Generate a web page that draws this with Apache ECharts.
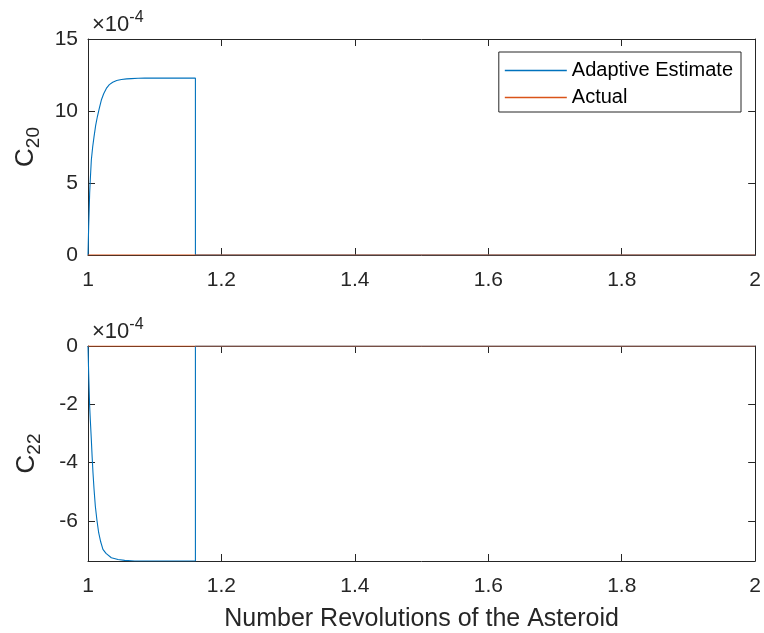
<!DOCTYPE html>
<html>
<head>
<meta charset="utf-8">
<script src="https://cdn.jsdelivr.net/npm/echarts@6/dist/echarts.min.js"></script>
<style>
  html, body { margin: 0; padding: 0; background: #fff; }
  #chart { width: 764px; height: 633px; }
</style>
</head>
<body>
<div id="chart"></div>
<script>
// values in units of 1e-4 (as the axes show them)
const c20Revs = [1, 1.0005, 1.001, 1.0018, 1.0025, 1.0035, 1.005, 1.007, 1.009, 1.0115, 1.014, 1.017, 1.02, 1.0235,
  1.0275, 1.032, 1.037, 1.043, 1.05, 1.058, 1.065, 1.075, 1.085, 1.161, 1.161, 2];
const c20Est = [0, 1.0, 1.97, 3.2, 4.3, 5.3, 6.6, 7.5, 8.2, 9.0, 9.6, 10.2, 10.76, 11.2,
  11.57, 11.83, 12.0, 12.12, 12.19, 12.23, 12.25, 12.27, 12.28, 12.28, 0, 0];
const c22Revs = [1, 1.0005, 1.001, 1.0018, 1.0025, 1.0035, 1.005, 1.0062, 1.0075, 1.009, 1.011, 1.0135, 1.016, 1.019,
  1.0224, 1.027, 1.035, 1.045, 1.055, 1.07, 1.161, 1.161, 2];
const c22Est = [0, -0.47, -0.94, -1.55, -2.08, -2.55, -3.22, -3.8, -4.36, -4.9, -5.5, -6.0, -6.41, -6.72,
  -6.98, -7.12, -7.27, -7.33, -7.36, -7.38, -7.38, 0, 0];
const actualRevs = [1, 2];
const c20Actual = [0, 0];
const c22Actual = [0, 0];
const c20Ticks = [0, 5, 10, 15];
const c22Ticks = [-6, -4, -2, 0];

const BLUE = '#0072BD';
const ORANGE = '#D95319';
const INK = '#262626';
const FONT = 'Liberation Sans';

const zip = (xs, ys) => xs.map((x, i) => [x, ys[i]]);

const chart = echarts.init(document.getElementById('chart'), null, { renderer: 'canvas' });

function xAxisFor(grid, pos, withLabels, name) {
  return {
    type: 'value', gridIndex: grid, position: pos, min: 1, max: 2, interval: 0.2,
    name: name || '', nameLocation: 'middle', nameGap: 46,
    nameTextStyle: { fontFamily: FONT, fontSize: 25, color: INK },
    axisLine: { show: true, onZero: false, lineStyle: { color: INK, width: 1 } },
    axisTick: { show: true, inside: true, length: 7, lineStyle: { color: INK } },
    axisLabel: {
      show: withLabels, margin: 15, fontFamily: FONT, fontSize: 21, color: INK,
      formatter: v => String(+v.toFixed(1))
    },
    splitLine: { show: false }
  };
}

function yAxisFor(grid, pos, min, max, ticks, withLabels, sub) {
  return {
    type: 'value', gridIndex: grid, position: pos, min: min, max: max,
    name: withLabels ? '{c|C}{s|' + sub + '}' : '',
    nameLocation: 'middle', nameRotate: 90, nameGap: 44,
    nameTextStyle: {
      rich: {
        c: { fontFamily: FONT, fontSize: 26, color: INK },
        s: { fontFamily: FONT, fontSize: 19, color: INK, padding: [16, 0, 0, 0] }
      }
    },
    axisLine: { show: true, onZero: false, lineStyle: { color: INK, width: 1 } },
    axisTick: { show: true, inside: true, length: 7, customValues: ticks, lineStyle: { color: INK } },
    axisLabel: { show: withLabels, margin: 10, fontFamily: FONT, fontSize: 21, color: INK, customValues: ticks },
    splitLine: { show: false }
  };
}

function exponentLabel(top) {
  return {
    type: 'text', left: 92, top: top,
    style: {
      text: '{a|×10}{b|-4}',
      rich: {
        a: { fontFamily: FONT, fontSize: 22, fill: INK },
        b: { fontFamily: FONT, fontSize: 16, fill: INK, padding: [0, 0, 14, 0] }
      }
    }
  };
}

const line = (name, x, y, color, xi, yi) => ({
  name: name, type: 'line', xAxisIndex: xi, yAxisIndex: yi,
  data: zip(x, y), showSymbol: false, symbol: 'none', animation: false,
  lineStyle: { color: color, width: 1.1 }, itemStyle: { color: color }
});

chart.setOption({
  animation: false,
  backgroundColor: '#fff',
  grid: [
    { left: 88, top: 39, width: 670, height: 216 },
    { left: 88, top: 346, width: 670, height: 216 }
  ],
  xAxis: [
    xAxisFor(0, 'bottom', true),
    xAxisFor(0, 'top', false),
    xAxisFor(1, 'bottom', true, 'Number Revolutions of the Asteroid'),
    xAxisFor(1, 'top', false)
  ],
  yAxis: [
    yAxisFor(0, 'left', 0, 15, c20Ticks, true, '20'),
    yAxisFor(0, 'right', 0, 15, c20Ticks, false),
    yAxisFor(1, 'left', -7.38, 0, c22Ticks, true, '22'),
    yAxisFor(1, 'right', -7.38, 0, c22Ticks, false)
  ],
  legend: {
    data: ['Adaptive Estimate', 'Actual'],
    orient: 'vertical', right: 23, top: 52,
    backgroundColor: '#fff', borderColor: INK, borderWidth: 1, borderRadius: 0,
    padding: [7, 8, 3, 6], icon: 'rect', itemWidth: 62, itemHeight: 1.6, itemGap: 4,
    textStyle: { fontFamily: FONT, fontSize: 20, color: '#000', lineHeight: 23 }
  },
  graphic: [exponentLabel(10), exponentLabel(317)],
  series: [
    line('Adaptive Estimate', c20Revs, c20Est, BLUE, 0, 0),
    line('Actual', actualRevs, c20Actual, ORANGE, 0, 0),
    line('Adaptive Estimate', c22Revs, c22Est, BLUE, 2, 2),
    line('Actual', actualRevs, c22Actual, ORANGE, 2, 2)
  ]
});
</script>
</body>
</html>
